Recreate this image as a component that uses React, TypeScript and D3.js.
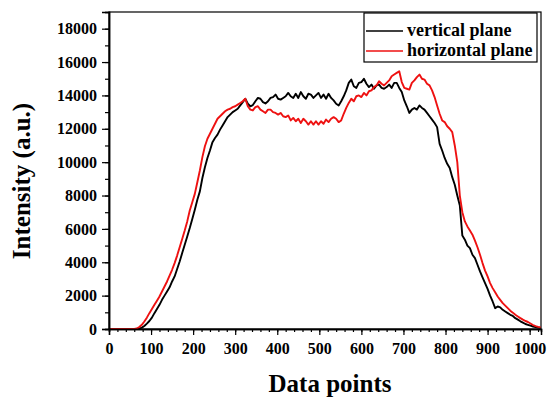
import { useEffect, useRef } from 'react';
import * as d3 from 'd3';

// sampled every 6 data points, 0 .. 1026
const dataPoints = d3.range(0, 1027, 6);

const verticalPlane = [
  0, 0, 0, 0, 0, 0, 0, 0, 0, 0, 0, 0, 20, 80, 180, 320, 480, 680, 950, 1200,
  1450, 1750, 2000, 2250, 2500, 2850, 3150, 3600, 4050, 4550, 5050, 5550, 6050, 6600, 7150, 7750,
  8250, 9050, 9700, 10250, 10700, 11200, 11450, 11650, 11950, 12200, 12450, 12700, 12850, 13000, 13100, 13200,
  13400, 13600, 13800, 13500, 13350, 13420, 13650, 13850, 13800, 13600, 13520, 13650, 13850, 13900, 14050, 13800,
  13750, 13850, 13950, 14150, 13950, 13850, 14100, 13850, 14200, 13950, 13800, 14100, 14050, 13850, 14000, 14150,
  13850, 14050, 13800, 14100, 13850, 13700, 13500, 13400, 13650, 13950, 14300, 14750, 14950, 14550, 14450, 14750,
  14800, 15000, 14700, 14500, 14650, 14400, 14600, 14650, 14450, 14400, 14500, 14650, 14450, 14750, 14750, 14450,
  14200, 13700, 13350, 12950, 13150, 13250, 13150, 13400, 13250, 13150, 12950, 12750, 12550, 12350, 12100, 11100,
  10700, 10250, 9900, 9650, 9100, 8650, 8000, 7400, 5600, 5350, 5000, 4850, 4450, 4250, 3850, 3450,
  3100, 2750, 2400, 2000, 1650, 1250, 1350, 1300, 1150, 1050, 950, 850, 780, 650, 560, 460,
  380, 300, 250, 200, 150, 120, 90, 70,
];

const horizontalPlane = [
  0, 0, 0, 0, 0, 0, 0, 0, 0, 0, 0, 30, 120, 250, 450, 680, 950, 1200, 1450, 1700,
  1950, 2250, 2550, 2850, 3200, 3550, 3950, 4400, 4900, 5400, 5900, 6450, 7100, 7600, 8100, 8800,
  9500, 10300, 10950, 11400, 11700, 12000, 12300, 12600, 12750, 12900, 13050, 13150, 13200, 13300, 13350, 13450,
  13550, 13650, 13800, 13350, 13150, 13100, 13300, 13350, 13150, 13050, 12950, 13150, 13150, 13000, 12950, 12850,
  12950, 12750, 12700, 12800, 12500, 12650, 12450, 12600, 12350, 12600, 12450, 12250, 12450, 12250, 12450, 12250,
  12450, 12300, 12550, 12400, 12600, 12700, 12600, 12400, 12500, 12900, 13250, 13550, 13800, 13650, 13950, 14000,
  13900, 14150, 14000, 14250, 14300, 14500, 14600, 14850, 14700, 14600, 14750, 14900, 15150, 15250, 15350, 15450,
  14800, 14450, 14400, 14350, 14750, 14900, 15100, 15250, 15000, 14950, 14700, 14600, 14300, 13900, 13400, 12900,
  12500, 12400, 12150, 12000, 11800, 11000, 10000, 8000, 7000, 6450, 6150, 5900, 5650, 5300, 4900, 4450,
  3950, 3500, 3150, 2750, 2450, 2200, 1950, 1750, 1550, 1400, 1250, 1100, 980, 850, 750, 650,
  560, 480, 420, 330, 240, 170, 130, 100,
];

const yTicks = d3.range(0, 18001, 2000);
const xTicks = d3.range(0, 1001, 100);

const W = 547;
const H = 397;
const plot = { left: 109, right: 541, top: 12, bottom: 329 };
const font = "'Liberation Serif', 'Times New Roman', serif";

export default function App() {
  const svgRef = useRef<SVGSVGElement>(null);

  useEffect(() => {
    const svg = d3.select(svgRef.current);
    svg.selectAll('*').remove();

    const x = d3.scaleLinear().domain([0, 1027]).range([plot.left, plot.right]);
    const y = d3.scaleLinear().domain([0, 19000]).range([plot.bottom, plot.top]);

    // frame
    svg.append('rect')
      .attr('x', plot.left).attr('y', plot.top)
      .attr('width', plot.right - plot.left).attr('height', plot.bottom - plot.top)
      .attr('fill', 'none').attr('stroke', '#000').attr('stroke-width', 1.2);

    // curves (red on top)
    const line = d3.line<number>()
      .x((_, i) => x(dataPoints[i]))
      .y(d => y(d));

    svg.append('path').datum(verticalPlane)
      .attr('d', line).attr('fill', 'none')
      .attr('stroke', '#000').attr('stroke-width', 1.9).attr('stroke-linejoin', 'round');
    svg.append('path').datum(horizontalPlane)
      .attr('d', line).attr('fill', 'none')
      .attr('stroke', '#ee1111').attr('stroke-width', 1.9).attr('stroke-linejoin', 'round');

    // x axis
    const xMinor = svg.append('g').attr('transform', `translate(0,${plot.bottom})`)
      .call(d3.axisBottom(x).tickValues(d3.range(0, 1021, 20)).tickSize(3).tickFormat(() => ''));
    const xMajor = svg.append('g').attr('transform', `translate(0,${plot.bottom})`)
      .call(d3.axisBottom(x).tickValues(xTicks).tickSize(6).tickPadding(8).tickFormat(d3.format('d')));

    // y axis
    const yMinor = svg.append('g').attr('transform', `translate(${plot.left},0)`)
      .call(d3.axisLeft(y).tickValues(d3.range(0, 19001, 1000)).tickSize(4).tickFormat(() => ''));
    const yMajor = svg.append('g').attr('transform', `translate(${plot.left},0)`)
      .call(d3.axisLeft(y).tickValues(yTicks).tickSize(7).tickPadding(5).tickFormat(d3.format('d')));

    [xMinor, xMajor, yMinor, yMajor].forEach(g => {
      g.select('.domain').attr('stroke-width', 1.5);
      g.selectAll('line').attr('stroke-width', 1.2);
      g.selectAll('text')
        .attr('font-family', font)
        .attr('font-weight', 'bold')
        .attr('font-size', 16)
        .attr('fill', '#000');
    });

    // axis titles
    svg.append('text')
      .attr('x', 330).attr('y', 392)
      .attr('text-anchor', 'middle')
      .attr('font-family', font).attr('font-weight', 'bold').attr('font-size', 25)
      .text('Data points');

    svg.append('text')
      .attr('transform', 'translate(30,181) rotate(-90)')
      .attr('text-anchor', 'middle')
      .attr('font-family', font).attr('font-weight', 'bold').attr('font-size', 25)
      .text('Intensity (a.u.)');

    // legend
    const legend = svg.append('g');
    legend.append('rect')
      .attr('x', 364).attr('y', 13).attr('width', 173).attr('height', 49)
      .attr('fill', '#fff').attr('stroke', '#000').attr('stroke-width', 1.2);
    const entries = [
      { label: 'vertical plane', color: '#000' },
      { label: 'horizontal plane', color: '#ee1111' },
    ];
    entries.forEach((e, i) => {
      const cy = 31 + i * 20;
      legend.append('line')
        .attr('x1', 366).attr('x2', 403).attr('y1', cy).attr('y2', cy)
        .attr('stroke', e.color).attr('stroke-width', 1.6);
      legend.append('text')
        .attr('x', 407).attr('y', cy + 5)
        .attr('font-family', font).attr('font-weight', 'bold').attr('font-size', 18)
        .text(e.label);
    });
  }, []);

  return (
    <svg
      ref={svgRef}
      width={W}
      height={H}
      style={{ position: 'absolute', left: 0, top: 0, background: '#fff' }}
    />
  );
}
